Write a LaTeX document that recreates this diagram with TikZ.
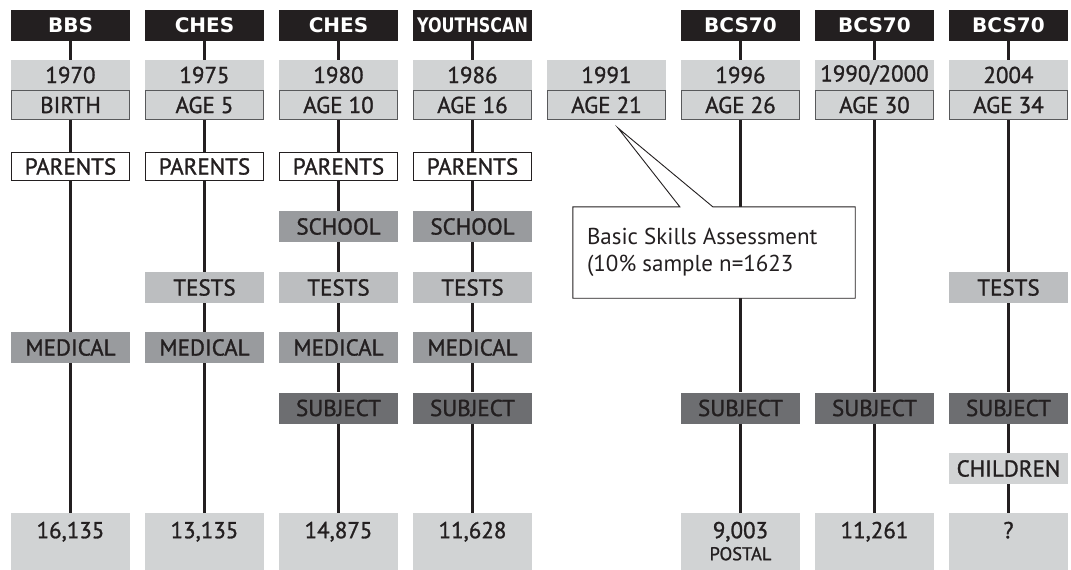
\documentclass[tikz,border=0pt]{standalone}
\usepackage{fontspec}
\usepackage{graphicx}
\setmainfont{PT Sans}[FakeBold=1.2]
\newfontfamily\hdrfont{DejaVu Sans}
\newfontfamily\plainfont{PT Sans}
\definecolor{txt}{HTML}{231F20}
\definecolor{hdrblack}{HTML}{231F20}
\definecolor{lgray}{HTML}{D1D3D4}
\definecolor{tgray}{HTML}{BCBEC0}
\definecolor{mgray}{HTML}{999B9E}
\definecolor{dgray}{HTML}{6D6E71}
\definecolor{agedge}{HTML}{58595B}
\tikzset{
  box/.style={minimum width=119pt, minimum height=31pt, inner sep=0pt, text=txt,
              font=\fontsize{23}{27}\selectfont},
  hdrbox/.style={box, fill=hdrblack, text=white, font=\hdrfont\fontsize{20}{24}\selectfont\bfseries},
  yearbox/.style={box, fill=lgray, minimum height=30pt},
  agebox/.style={box, fill=lgray, draw=agedge, line width=1pt, minimum width=118pt, minimum height=29pt},
  parentbox/.style={box, fill=white, draw=txt, line width=1pt, minimum width=118pt, minimum height=28pt},
  schoolbox/.style={box, fill=mgray},
  testbox/.style={box, fill=tgray},
  medbox/.style={box, fill=mgray},
  subjbox/.style={box, fill=dgray},
  childbox/.style={box, fill=lgray},
  endbox/.style={box, fill=lgray, minimum height=57pt, anchor=north},
  link/.style={draw=txt, line width=2.6pt},
  calloutline/.style={draw=txt, line width=0.9pt, fill=white, line join=miter},
}
\newcommand{\totaltext}[1]{\parbox[c][57pt][t]{119pt}{\centering\rule{0pt}{25pt}#1}}
\begin{document}
\begin{tikzpicture}[x=1pt,y=-1pt]
\useasboundingbox (0,0) rectangle (1071,570);

% ---------- headers ----------
\node[hdrbox] (h1) at (70.5,25.5)  {BBS};
\node[hdrbox] (h2) at (204.5,25.5) {CHES};
\node[hdrbox] (h3) at (338.5,25.5) {CHES};
\node[hdrbox] (h4) at (472.5,25.5) {\scalebox{0.8}[1]{YOUTHSCAN}};
\node[hdrbox] (h6) at (740.5,25.5) {BCS70};
\node[hdrbox] (h7) at (874.5,25.5) {BCS70};
\node[hdrbox] (h8) at (1008.5,25.5) {BCS70};

% ---------- years ----------
\node[yearbox] (y1) at (70.5,75)  {1970};
\node[yearbox] (y2) at (204.5,75) {1975};
\node[yearbox] (y3) at (338.5,75) {1980};
\node[yearbox] (y4) at (472.5,75) {1986};
\node[yearbox] (y5) at (606.5,75) {1991};
\node[yearbox] (y6) at (740.5,75) {1996};
\node[yearbox] (y7) at (874.5,75) {1990/2000};
\node[yearbox] (y8) at (1008.5,75) {2004};

% ---------- ages ----------
\node[agebox] (a1) at (70.5,105)  {BIRTH};
\node[agebox] (a2) at (204.5,105) {AGE 5};
\node[agebox] (a3) at (338.5,105) {AGE 10};
\node[agebox] (a4) at (472.5,105) {AGE 16};
\node[agebox] (a5) at (606.5,105) {AGE 21};
\node[agebox] (a6) at (740.5,105) {AGE 26};
\node[agebox] (a7) at (874.5,105) {AGE 30};
\node[agebox] (a8) at (1008.5,105) {AGE 34};

% ---------- parents ----------
\node[parentbox] (p1) at (70.5,166.5)  {PARENTS};
\node[parentbox] (p2) at (204.5,166.5) {PARENTS};
\node[parentbox] (p3) at (338.5,166.5) {PARENTS};
\node[parentbox] (p4) at (472.5,166.5) {PARENTS};

% ---------- school ----------
\node[schoolbox] (s3) at (338.5,226.5) {SCHOOL};
\node[schoolbox] (s4) at (472.5,226.5) {SCHOOL};

% ---------- tests ----------
\node[testbox] (t2) at (204.5,287.5) {TESTS};
\node[testbox] (t3) at (338.5,287.5) {TESTS};
\node[testbox] (t4) at (472.5,287.5) {TESTS};
\node[testbox] (t8) at (1008.5,287.5) {TESTS};

% ---------- medical ----------
\node[medbox] (m1) at (70.5,347.5)  {MEDICAL};
\node[medbox] (m2) at (204.5,347.5) {MEDICAL};
\node[medbox] (m3) at (338.5,347.5) {MEDICAL};
\node[medbox] (m4) at (472.5,347.5) {MEDICAL};

% ---------- subject ----------
\node[subjbox] (j3) at (338.5,408) {SUBJECT};
\node[subjbox] (j4) at (472.5,408) {SUBJECT};
\node[subjbox] (j6) at (740.5,408) {SUBJECT};
\node[subjbox] (j7) at (874.5,408) {SUBJECT};
\node[subjbox] (j8) at (1008.5,408) {SUBJECT};

% ---------- children ----------
\node[childbox] (c8) at (1008.5,468.5) {CHILDREN};

% ---------- totals ----------
\node[endbox] (b1) at (70.5,513)  {\totaltext{16,135}};
\node[endbox] (b2) at (204.5,513) {\totaltext{13,135}};
\node[endbox] (b3) at (338.5,513) {\totaltext{14,875}};
\node[endbox] (b4) at (472.5,513) {\totaltext{11,628}};
\node[endbox] (b6) at (740.5,513) {\totaltext{9,003\\[-5pt]{\fontsize{18.5}{20}\selectfont POSTAL}}};
\node[endbox] (b7) at (874.5,513) {\totaltext{11,261}};
\node[endbox] (b8) at (1008.5,513) {\totaltext{?}};

% ---------- connectors ----------
\foreach \c in {1,2,3,4,6,7,8} { \draw[link] (h\c) -- (y\c); }
\draw[link] (a1) -- (p1); \draw[link] (p1) -- (m1); \draw[link] (m1) -- (b1);
\draw[link] (a2) -- (p2); \draw[link] (p2) -- (t2); \draw[link] (t2) -- (m2); \draw[link] (m2) -- (b2);
\draw[link] (a3) -- (p3); \draw[link] (p3) -- (s3); \draw[link] (s3) -- (t3); \draw[link] (t3) -- (m3); \draw[link] (m3) -- (j3); \draw[link] (j3) -- (b3);
\draw[link] (a4) -- (p4); \draw[link] (p4) -- (s4); \draw[link] (s4) -- (t4); \draw[link] (t4) -- (m4); \draw[link] (m4) -- (j4); \draw[link] (j4) -- (b4);
\draw[link] (a6) -- (j6); \draw[link] (j6) -- (b6);
\draw[link] (a7) -- (j7); \draw[link] (j7) -- (b7);
\draw[link] (a8) -- (t8); \draw[link] (t8) -- (j8); \draw[link] (j8) -- (c8); \draw[link] (c8) -- (b8);

% ---------- callout ----------
\coordinate (tip) at (618,128);
\node[minimum width=282pt, minimum height=91pt, inner sep=0pt] (cb) at (714,252.5) {};
\draw[calloutline] (cb.north west) -- ([xshift=107pt]cb.north west) -- (tip)
  -- ([xshift=140pt]cb.north west) -- (cb.north east) -- (cb.south east)
  -- (cb.south west) -- cycle;
\node[anchor=north west, inner sep=0pt, align=left, text=txt,
      font=\plainfont\fontsize{23}{27}\selectfont] (ct)
  at ([xshift=14pt,yshift=-21pt]cb.north west)
  {Basic Skills Assessment\\(10\% sample n=1623};
\end{tikzpicture}
\end{document}
